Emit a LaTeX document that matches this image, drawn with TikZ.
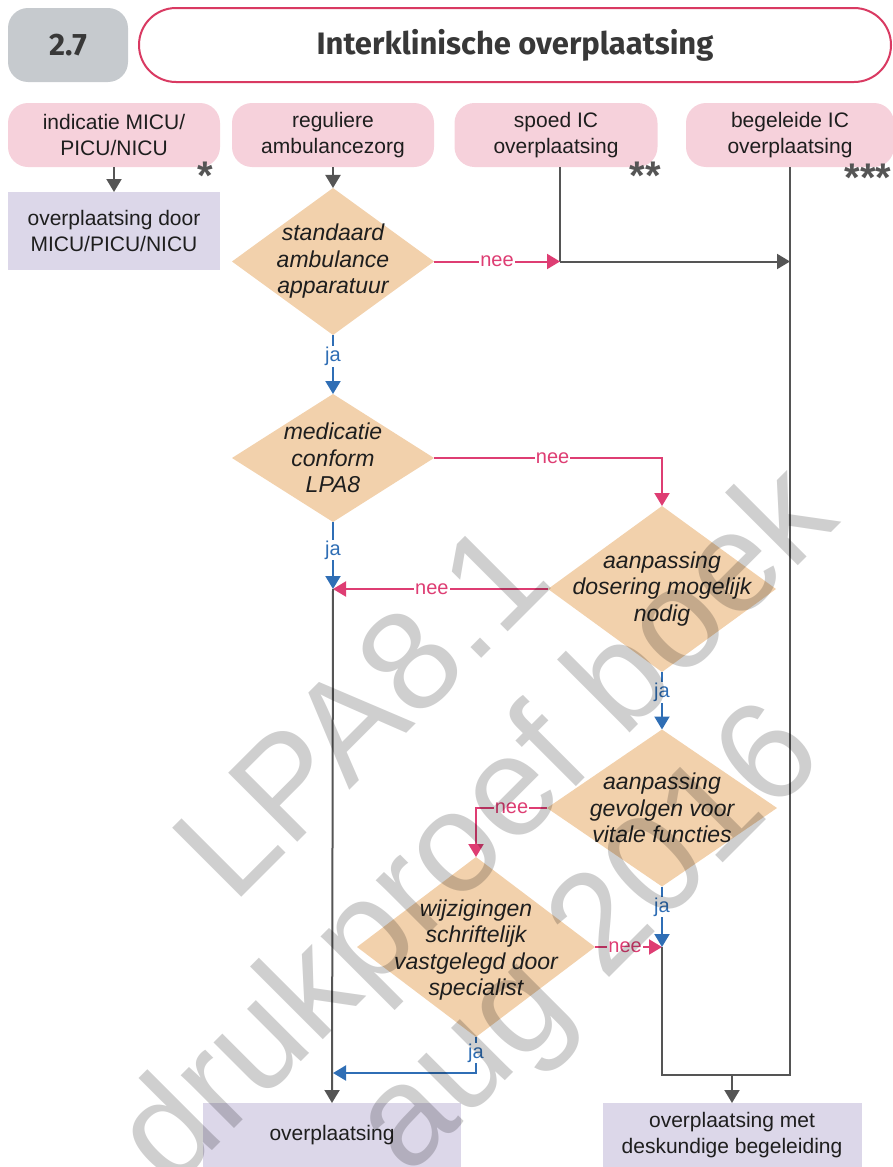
\documentclass[tikz,border=0pt]{standalone}
\usepackage{fontspec}
\setmainfont{Liberation Sans}
\newfontfamily\titlefont{Fira Sans}
\usetikzlibrary{shapes.geometric,arrows.meta}
\definecolor{pinkfill}{HTML}{F6D1DB}
\definecolor{lav}{HTML}{DCD7E9}
\definecolor{tanc}{HTML}{F2D1AC}
\definecolor{crim}{HTML}{D93A62}
\definecolor{neec}{HTML}{DE3D73}
\definecolor{jac}{HTML}{2F6EB5}
\definecolor{grayl}{HTML}{555555}
\definecolor{numbox}{HTML}{C6CACE}
\definecolor{txt}{HTML}{1E1E1E}
\tikzset{
 base/.style={inner sep=0pt, outer sep=0pt, text=txt, font=\fontsize{21}{26}\selectfont, align=center},
 pinkbox/.style={base, fill=pinkfill, rounded corners=20pt, minimum height=64pt},
 lavbox/.style={base, fill=lav},
 dia/.style={diamond, fill=tanc, inner sep=0pt, outer sep=0pt},
 dtext/.style={base, font=\fontsize{23}{26.5}\selectfont\itshape},
 tip/.style={-{Triangle[length=13pt,width=15pt]}},
 gline/.style={draw=grayl, line width=2pt},
 garrow/.style={gline, tip},
 nline/.style={draw=neec, line width=2pt, tip},
 jline/.style={draw=jac, line width=2pt, tip},
 neelab/.style={fill=white, text=neec, font=\fontsize{20}{24}\selectfont, inner sep=1pt},
 jalab/.style={fill=white, text=jac, font=\fontsize{20}{24}\selectfont, inner sep=1pt},
 star/.style={text=grayl, font=\fontsize{40}{40}\selectfont\bfseries, inner sep=0pt},
 headtxt/.style={text=black!78, font=\titlefont\bfseries\fontsize{31}{34}\selectfont}
}
\begin{document}
\begin{tikzpicture}[x=1pt,y=-1pt]
\useasboundingbox (0,0) rectangle (893,1167);
% header
\node[headtxt, fill=numbox, rounded corners=20pt, minimum width=120pt, minimum height=74pt, inner sep=0pt] (num) at (68,45) {2.7};
\node[headtxt, draw=crim, line width=2pt, fill=white, rounded corners=37pt, minimum width=752pt, minimum height=74pt, inner sep=0pt] (title) at (515,45) {Interklinische overplaatsing};
% top boxes
\node[pinkbox, minimum width=212pt] (p1) at (114,135) {indicatie MICU/\\PICU/NICU};
\node[pinkbox, minimum width=202pt] (p2) at (333,135) {reguliere\\ambulancezorg};
\node[pinkbox, minimum width=203pt] (p3) at (556,135) {spoed IC\\overplaatsing};
\node[pinkbox, minimum width=208pt] (p4) at (790,135) {begeleide IC\\overplaatsing};
\node[star] (s1) at (205,176) {*};
\node[star] (s2) at (645,176) {**};
\node[star] (s3) at (868,178) {***};
\node[lavbox, minimum width=212pt, minimum height=78pt] (l1) at (114,231) {overplaatsing door\\MICU/PICU/NICU};
% diamonds
\node[dia, minimum width=202pt, minimum height=147pt] (d1) at (333,261.5) {};
\node[dtext] at (d1) {standaard\\ambulance\\apparatuur};
\node[dia, minimum width=202pt, minimum height=128pt] (d2) at (333,458) {};
\node[dtext] at (d2) {medicatie\\conform\\LPA8};
\node[dia, minimum width=228pt, minimum height=166pt] (d3) at (662,589) {};
\node[dtext] at (d3) {aanpassing\\dosering mogelijk\\nodig};
\node[dia, minimum width=230pt, minimum height=157pt] (d4) at (662,808) {};
\node[dtext] at (d4) {aanpassing\\gevolgen voor\\vitale functies};
\node[dia, minimum width=238pt, minimum height=180pt] (d5) at (476,947) {};
\node[dtext] at ([yshift=-3pt]d5) {wijzigingen\\schriftelijk\\vastgelegd door\\specialist};
% bottom boxes
\node[lavbox, minimum width=258pt, minimum height=64pt] (l2) at (332,1135) {overplaatsing};
\node[lavbox, minimum width=259pt, minimum height=64pt] (l3) at (732,1135) {overplaatsing met\\deskundige begeleiding};
% coordinates
\coordinate (j1) at (560,261.5);
\coordinate (j2) at (790,261.5);
\coordinate (m1) at (333,589);
\coordinate (m2) at (662,947);
\coordinate (c4) at (790,1075);
\coordinate (m3) at (333,1073);
% connectors
\draw[garrow] (p1) -- (l1);
\draw[garrow] (p2) -- (d1);
\draw[gline] (j1 |- p3.south) -- (j1);
\draw[nline] (d1.east) -- node[neelab]{nee} (j1);
\draw[garrow] (j1) -- (j2);
\draw[jline] (d1.south) -- node[jalab, pos=0.36]{ja} (d2.north);
\draw[nline] (d2.east) -| node[neelab, pos=0.26]{nee} (d3.north);
\draw[jline] (d2.south) -- node[jalab, pos=0.42]{ja} (m1);
\draw[nline] (d3.west) -- node[neelab, pos=0.54]{nee} (m1);
\draw[garrow] (m1) -- (l2.north);
\draw[jline] (d3.south) -- node[jalab, pos=0.36]{ja} (d4.north);
\draw[nline] (d4.west) -| node[neelab, pos=0.25]{nee} (d5.north);
\draw[nline] (d5.east) -- node[neelab, pos=0.45]{nee} (m2);
\draw[jline] (d4.south) -- node[jalab, pos=0.34]{ja} (m2);
\draw[gline] (m2) |- (c4) -- (p4.south);
\draw[garrow] (l3.north |- c4) -- (l3.north);
\draw[jline] (d5.south) |- node[jalab, pos=0.22]{ja} (m3);
% watermark
\node[rotate=45, text=black, opacity=0.19, align=center, inner sep=0pt,
  font=\fontsize{142}{158}\selectfont] (wm) at (482,832) {LPA8.1\\drukproef boek\\aug 2016};
\end{tikzpicture}
\end{document}
